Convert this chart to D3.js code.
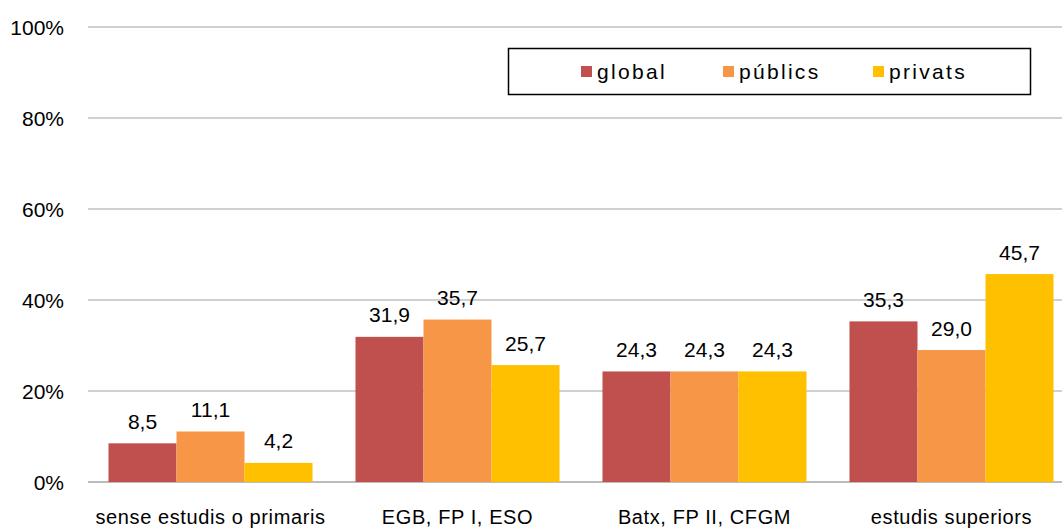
<!DOCTYPE html>
<html><head><meta charset="utf-8">
<script src="https://cdn.jsdelivr.net/npm/d3@7"></script>
<style>body{margin:0;background:#fff}svg{display:block;font-family:"Liberation Sans",Arial,sans-serif}</style>
</head><body><svg id="c" width="1062" height="528"></svg>
<script>
const categories = ["sense estudis o primaris", "EGB, FP I, ESO", "Batx, FP II, CFGM", "estudis superiors"];
const seriesNames = ["global", "públics", "privats"];
const global = [8.5, 31.9, 24.3, 35.3];
const publics = [11.1, 35.7, 24.3, 29.0];
const privats = [4.2, 25.7, 24.3, 45.7];
const yTicks = [0, 20, 40, 60, 80, 100];
const colors = ["#C0504D", "#F79646", "#FFC000"];

const seriesVals = [global, publics, privats];
const svg = d3.select("#c");
const x0 = d3.scaleBand().domain(categories).range([87, 1075]).paddingInner(0.174).paddingOuter(0.087);
const x1 = d3.scaleBand().domain(seriesNames).range([0, x0.bandwidth()]);
const y = d3.scaleLinear().domain([0, 100]).range([482, 27]);

const grid = svg.append("g");
yTicks.forEach(t => {
  grid.append("line").attr("x1", 88).attr("x2", 1062).attr("y1", y(t)).attr("y2", y(t))
    .attr("stroke", t === 0 ? "#a6a6a6" : "#c0c0c0").attr("stroke-width", 1.3);
});
const yAxis = d3.axisLeft(y).tickValues(yTicks).tickFormat(d => d + "%").tickSize(0).tickPadding(0);
const ya = svg.append("g").attr("transform", "translate(64,0)").call(yAxis);
ya.select(".domain").remove();
ya.selectAll("text").attr("font-size", 21).attr("fill", "#000").attr("dy", "0.36em")
  .attr("font-family", "Liberation Sans, Arial, sans-serif");

categories.forEach((c, ci) => {
  const g = svg.append("g").attr("transform", `translate(${x0(c)},0)`);
  seriesNames.forEach((s, si) => {
    const v = seriesVals[si][ci];
    g.append("rect").attr("x", x1(s)).attr("width", x1.bandwidth()).attr("y", y(v)).attr("height", y(0) - y(v)).attr("fill", colors[si]);
    g.append("text").attr("x", x1(s) + x1.bandwidth() / 2).attr("y", y(v) - 14.5).attr("text-anchor", "middle")
      .attr("font-size", 21).attr("fill", "#000").text(d3.format(".1f")(v).replace(".", ","));
  });
});
const xAxis = d3.axisBottom(x0).tickSize(0).tickPadding(0);
const xa = svg.append("g").attr("transform", "translate(0,524)").call(xAxis);
xa.select(".domain").remove();
xa.selectAll("text").attr("font-size", 20).attr("fill", "#000").attr("dy", 0).attr("letter-spacing", 0.6)
  .attr("font-family", "Liberation Sans, Arial, sans-serif");

const lg = svg.append("g");
lg.append("rect").attr("x", 508.5).attr("y", 48.5).attr("width", 522).attr("height", 46).attr("fill", "#fff").attr("stroke", "#000").attr("stroke-width", 1.5);
const lx = [581, 723, 873];
seriesNames.forEach((s, i) => {
  lg.append("rect").attr("x", lx[i]).attr("y", 66).attr("width", 11).attr("height", 11).attr("fill", colors[i]);
  lg.append("text").attr("x", lx[i] + 16).attr("y", 79).attr("font-size", 21).attr("letter-spacing", 2.3).attr("fill", "#000").text(s);
});
</script></body></html>
